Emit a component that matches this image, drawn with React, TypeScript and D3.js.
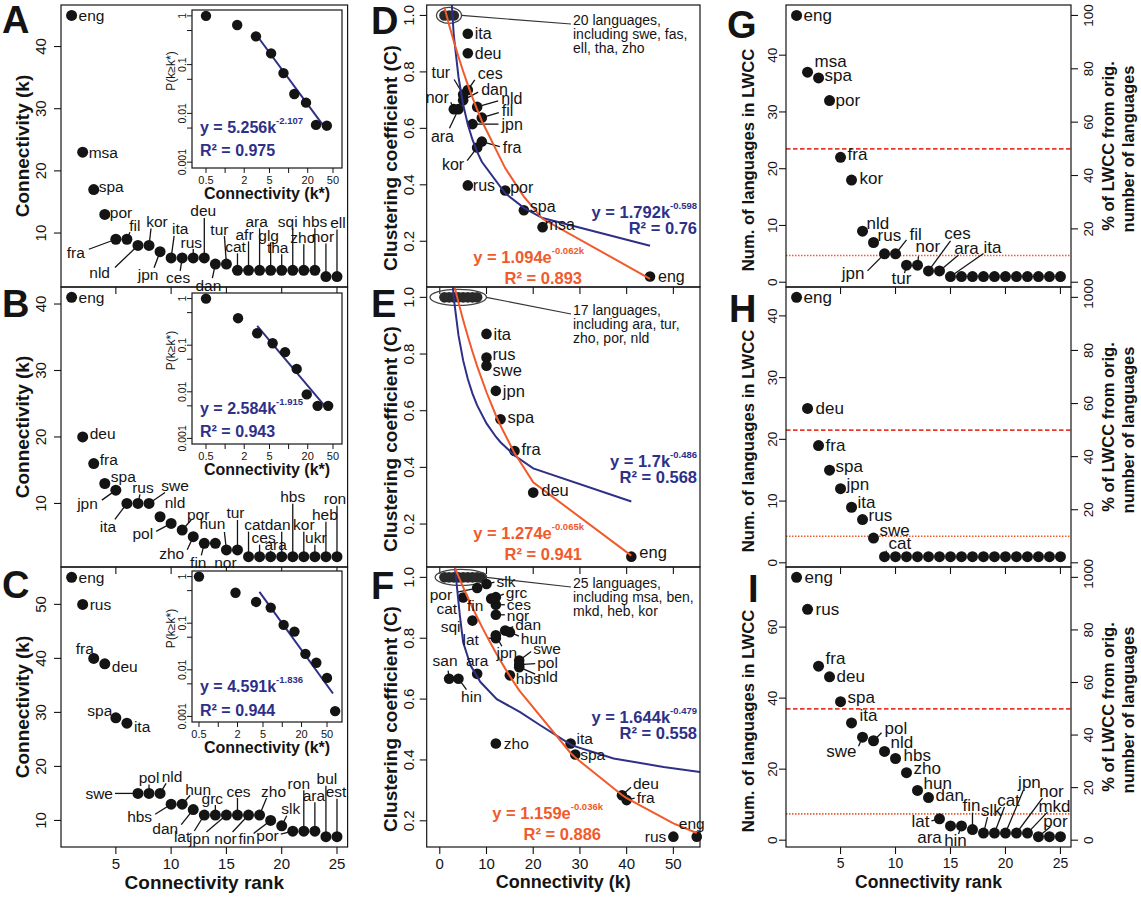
import React from "react";
import * as d3 from "d3";

type Lab = [number, number, string, number?, number?] | null;

const FONT = "'Liberation Sans', Arial, Helvetica, sans-serif";
const INK = "#141414";
const BLUE = "#2e3088";
const ORANGE = "#f15a2b";
const RED_DASH = "#e83a2c";
const RED_DOT = "#f25c2c";

// ---------------- Panels A-C : connectivity by rank ----------------
const langA = ["eng","msa","spa","por","fra","fil","nld","kor","jpn","ita","ces","rus","deu","dan","tur","cat","afr","ara","glg","tha","sqi","zho","hbs","nor","ell"];
const connA = [45,23,17,13,9,9,8,8,7,6,6,6,6,5,5,4,4,4,4,4,4,4,4,3,3];
const langB = ["eng","deu","fra","spa","jpn","ita","rus","swe","nld","pol","por","zho","fin","nor","hun","tur","cat","ces","ara","dan","hbs","kor","ukr","heb","ron"];
const connB = [41,20,16,13,12,10,10,10,8,7,6,5,4,4,3,3,2,2,2,2,2,2,2,2,2];
const langC = ["eng","rus","fra","deu","spa","ita","swe","pol","nld","hbs","hun","dan","lat","grc","jpn","ces","nor","zho","fin","slk","por","ron","ara","bul","est"];
const connC = [55,50,40,39,29,28,15,15,15,13,13,12,11,11,11,11,11,11,10,9,8,8,8,7,7];

// insets: cumulative degree distribution P(k>=k*)
const insetKA = [0.5, 1.55, 3.06, 5.3, 8.3, 12.3, 18.8, 27, 40];
const insetPA = [1, 0.65, 0.38, 0.17, 0.067, 0.025, 0.0166, 0.0058, 0.0056];
const fitKA = [3.1, 40];
const fitPA = [0.41, 0.0045];
const insetKB = [0.5, 1.6, 3.2, 5.6, 8.8, 13.4, 19.3, 28.6, 42];
const insetPB = [1, 0.38, 0.18, 0.11, 0.071, 0.031, 0.0088, 0.005, 0.005];
const fitKB = [3.2, 37];
const fitPB = [0.26, 0.005];
const insetKC = [0.5, 1.86, 3.9, 6.6, 10.5, 15.5, 23, 34, 50, 67];
const insetPC = [1, 0.45, 0.286, 0.216, 0.092, 0.066, 0.022, 0.0142, 0.0067, 0.0013];
const fitKC = [4.4, 62];
const fitPC = [0.47, 0.0031];

// ---------------- Panels D-F : clustering coefficient ----------------
const langD = ["ita","deu","ces","tur","dan","nor","ara","nld","fil","jpn","fra","kor","rus","por","spa","msa","eng"];
const kD = [6,6,6,5,5,3,4,8,9,7,9,8,6,14,18,22,45];
const ccD = [0.935,0.866,0.736,0.72,0.70,0.668,0.668,0.676,0.638,0.615,0.553,0.532,0.398,0.38,0.31,0.25,0.075];
const clusterKD = [1,2,3];
const ellipseKD = [-0.7, 4.65];

const langE = ["ita","rus","swe","jpn","spa","fra","deu","eng"];
const kE = [10,10,10,12,13,16,20,41];
const ccE = [0.871,0.788,0.759,0.67,0.57,0.458,0.311,0.085];
const clusterKE = [1,2,3,4,5,6,7,8];
const ellipseKE = [-2.1, 10.0];

const langF = ["por","slk","grc","ces","nor","fin","cat","sqi","lat","dan","hun","jpn","swe","pol","nld","hbs","ara","san","hin","zho","ita","spa","deu","fra","rus","eng"];
const kF = [8,10,12,12,12,11,5,7,12,14,15,12,17,17,17,15,8,2,4,12,28,29,39,40,50,55];
const ccF = [0.965,0.978,0.935,0.91,0.877,0.93,0.934,0.858,0.80,0.825,0.82,0.81,0.727,0.713,0.705,0.678,0.683,0.667,0.667,0.454,0.454,0.418,0.284,0.268,0.148,0.148];
const clusterKF = [1,2,3,4,5,6,7,8,9];
const ellipseKF = [-1.0, 10.0];
const blueKF = [3.2, 4.3, 5.0, 6.6, 8.7, 12.2, 17.2, 21.5, 28.3, 37.2, 47.9, 56];
const blueCF = [1.04, 0.874, 0.787, 0.71, 0.656, 0.60, 0.557, 0.514, 0.448, 0.405, 0.377, 0.36];

// ---------------- Panels G-I : size of LWCC ----------------
const langG = ["eng","msa","spa","por","fra","kor","nld","rus","jpn","fil","tur","nor","ces","ara","ita","","","","","","","","","",""];
const lwccG = [47,37,36,32,22,18,9,7,5,5,3,3,2,2,1,1,1,1,1,1,1,1,1,1,1];
const langH = ["eng","deu","fra","spa","jpn","ita","rus","swe","cat","","","","","","","","","","","","","","","",""];
const lwccH = [43,25,19,15,12,9,7,4,1,1,1,1,1,1,1,1,1,1,1,1,1,1,1,1,1];
const langI = ["eng","rus","fra","deu","spa","ita","swe","pol","nld","hbs","zho","hun","dan","lat","ara","hin","fin","slk","cat","jpn","nor","mkd","por","",""];
const lwccI = [74,65,49,46,39,33,29,28,25,23,19,14,12,6,4,4,3,2,2,2,2,2,1,1,1];

// ---------------- ticks ----------------
const ticksA = [10, 20, 30, 40];
const ticksB = [10, 20, 30, 40];
const ticksC = [10, 20, 30, 40, 50];
const ticksG = [0, 10, 20, 30, 40];
const ticksH = [0, 10, 20, 30, 40];
const ticksI = [0, 20, 40, 60];
const rankTicks = [5, 10, 15, 20, 25];
const pctTicks = [0, 20, 40, 60, 80, 100];
const ccTicks = [0.2, 0.4, 0.6, 0.8, 1.0];
const kTicks = [0, 10, 20, 30, 40, 50];
const kDomain = [-2.8, 55.7];
const insetXTicks = [0.5, 1, 2, 5, 10, 20, 50];
const insetXLabels = ["0.5", "", "2", "5", "", "20", "50"];
const insetYTicks = [1, 0.5, 0.1, 0.05, 0.01, 0.005, 0.001];
const insetYLabels = ["1", "", "0.1", "", "0.01", "", "0.001"];

// ---------------- label placement (layout) ----------------
const labA: Lab[] = [
  [7,0,"s"],[6,0,"s"],[5,-3,"s"],[5,-2,"s"],
  [-31,13,"e",-27,10],[8,-14,"m",3,-7],[-28,27,"e",-23,22],[8,-24,"m",2,-17],
  [-12,23,"m",-6,16],[9,-29,"m",3,-22],[-4,20,"m",-2,13],[-2,-15,"m",0,-9],
  [-1,-47,"m",0,-40],[-7,21,"m",-3,14],[-7,-35,"m",-2,-28],[-2,-24,"m",0,-17],
  [-4,-36,"m",0,-29],[-3,-49,"m",0,-42],[-2,-35,"m",0,-28],[-4,-23,"m",0,-16],
  [-5,-49,"m",0,-42],[-1,-33,"m",0,-26],[0,-49,"m",0,-42],[-3,-40,"m",0,-33],[1,-54,"m",0,-47],
];
const labB: Lab[] = [
  [7,0,"s"],[7,-3,"s"],[6,-4,"s"],[6,-7,"s"],
  [-18,13,"e",-14,10],[-19,23,"m",-12,16],[5,-16,"m",2,-9],[26,-18,"m",16,-11],
  [15,-14,"m"],[-18,10,"e",-15,8],[16,-16,"m",9,-10],[-9,17,"e",-6,13],
  [-6,19,"m",-3,12],[10,19,"m"],[-14,-26,"m",-2,-18],[-2,-37,"m",0,-30],
  [6,-32,"m",0,-25],[4,-19,"m",0,-12],[5,-12,"m",0,-6],[-4,-32,"m",0,-25],
  [0,-60,"m",0,-53],[0,-32,"m",0,-25],[1,-19,"m",0,-12],[-1,-42,"m",0,-35],[-2,-58,"m",0,-51],
];
const labC: Lab[] = [
  [7,0,"s"],[7,0,"s"],[-9,-10,"m"],[7,3,"s"],
  [-16,-7,"m"],[7,3,"s"],[-25,0,"e",-23,0],[0,-16,"m",0,-9],
  [12,-17,"m",6,-10],[-19,12,"e",-16,10],[16,-15,"m",8,-9],[-15,19,"e",-12,15],
  [-14,21,"e",-10,16],[-3,-17,"m",0,-10],[-27,23,"m",-20,17],[1,-24,"m",0,-17],
  [-23,23,"m",-16,17],[14,-24,"m",7,-17],[-24,18,"m",-17,13],[9,-17,"m",5,-10],
  [-14,4,"e",-12,3],[-5,-48,"m",0,-41],[-1,-36,"m",0,-29],[1,-58,"m",0,-51],[-1,-45,"m",0,-38],
];
const labG: Lab[] = [
  [7,0,"s"],[7,-11,"s"],[6,-2,"s"],[6,0,"s"],[7,-3,"s"],[8,-2,"s"],[4,-8,"s"],[4,-7,"s"],
  [-20,20,"e",-17,17],[14,-19,"s",11,-14],[-5,13,"m",-2,8],[-2,-19,"s",1,-9],
  [29,-37,"m",22,-30],[27,-22,"m",19,-16],[42,-29,"m",33,-23],
  null,null,null,null,null,null,null,null,null,null,
];
const labH: Lab[] = [
  [7,0,"s"],[8,0,"s"],[7,0,"s"],[6,-4,"s"],[6,-4,"s"],[6,-5,"s"],[6,-4,"s"],[6,-8,"s"],[4,-13,"s",2,-6],
  null,null,null,null,null,null,null,null,null,null,null,null,null,null,null,null,
];
const labI: Lab[] = [
  [8,0,"s"],[8,0,"s"],[7,-8,"s"],[7,0,"s"],[7,-4,"s"],[8,-7,"s"],
  [-6,14,"e",-4,9],[11,-12,"s",8,-8],[6,-9,"s"],[8,-3,"s"],[7,-4,"s"],[6,-7,"s"],[7,-2,"s"],
  [-10,3,"e",-8,2],[-21,12,"m"],[-6,15,"m",-3,8],[-1,-24,"m",0,-17],[8,-23,"m",4,-16],
  [14,-33,"m",10,-26],[24,-51,"m",18,-43],[35,-42,"m",26,-35],[27,-27,"m",20,-21],[17,-15,"m",12,-10],
  null,null,
];
const labD: Lab[] = [
  [7,0,"s"],[7,0,"s"],[10,-16,"s",7,-10],[-13,-22,"e",-9,-15],[18,-11,"s",15,-8],[-5,-12,"e",-3,-7],[-16,27,"m",-9,19],
  [24,-8,"s",21,-6],[20,-7,"s",17,-5],[29,0,"s",26,0],[21,6,"s",18,5],[-13,17,"e",-10,13],
  [5,0,"s"],[5,-3,"s"],[6,-4,"s"],[2,-3,"s"],[8,0,"s"],
];
const labE: Lab[] = [[7,0,"s"],[6,-3,"s"],[6,4,"s"],[7,0,"s"],[7,-2,"s"],[7,-2,"s"],[8,-3,"s"],[8,-5,"s"]];
const labF: Lab[] = [
  [-25,6,"e",-20,4],[10,-3,"s",8,-2],[10,-5,"s",8,-3],[11,0,"s",9,0],[11,1,"s",9,0],[-16,7,"m"],[-6,11,"e"],[-12,6,"e"],
  [-17,1,"e",-8,0],[10,-6,"s",8,-4],[11,6,"s",9,4],[11,17,"m",6,11],[14,-12,"s",12,-9],[18,-2,"s",16,-1],[18,9,"s",16,7],[6,3,"s"],
  [0,-13,"m"],[-4,-18,"m",-1,-8],[13,18,"m",8,11],[8,0,"s"],[6,-5,"s"],[5,0,"s"],[11,-12,"s",9,-8],[10,-3,"s",8,-2],[-7,0,"e"],[-5,-13,"m"],
];

const AN: Record<string, string> = { s: "start", m: "middle", e: "end" };

type Pt = { x: number; y: number; name: string; lab: Lab };

function Marks({ pts, r, fs, lines }: { pts: Pt[]; r: number; fs: number; lines?: React.ReactNode }) {
  return (
    <g>
      {pts.map((p, i) =>
        p.lab && p.lab[3] !== undefined ? (
          <line key={"l" + i} x1={p.x} y1={p.y} x2={p.x + (p.lab[3] as number)} y2={p.y + (p.lab[4] as number)} stroke={INK} strokeWidth={1.3} />
        ) : null
      )}
      {pts.map((p, i) => (
        <circle key={"c" + i} cx={p.x} cy={p.y} r={r} fill={INK} />
      ))}
      {lines}
      {pts.map((p, i) =>
        p.lab && p.name ? (
          <text key={"t" + i} x={p.x + p.lab[0]} y={p.y + p.lab[1]} textAnchor={AN[p.lab[2]]} dominantBaseline="central" fontSize={fs} fill={INK}>
            {p.name}
          </text>
        ) : null
      )}
    </g>
  );
}

function VAxis({ x, scale, ticks, fmt, fs, off, side }: any) {
  const dir = side === "right" ? 1 : -1;
  return (
    <g>
      {ticks.map((t: number, i: number) => {
        const y = scale(t);
        return (
          <g key={i}>
            <line x1={x} x2={x + dir * 7} y1={y} y2={y} stroke={INK} strokeWidth={1.1} />
            <text transform={`translate(${x + dir * off},${y}) rotate(-90)`} textAnchor="middle" dominantBaseline="central" fontSize={fs} fill={INK}>
              {fmt(t)}
            </text>
          </g>
        );
      })}
    </g>
  );
}

function HAxis({ y, scale, ticks, labels, fs }: any) {
  return (
    <g>
      {ticks.map((t: number, i: number) => (
        <g key={i}>
          <line x1={scale(t)} x2={scale(t)} y1={y} y2={y + 7} stroke={INK} strokeWidth={1.1} />
          {labels ? (
            <text x={scale(t)} y={y + 16} textAnchor="middle" dominantBaseline="central" fontSize={fs} fill={INK}>
              {String(t)}
            </text>
          ) : null}
        </g>
      ))}
    </g>
  );
}

function RankPanel(p: any) {
  const { x0, x1, y0, y1, langs, vals, labs, yTicks, xLabels, tickFs, labFs, titleFs, yTitle, tickOff, titleOff, titleDy, pct, xTitle, xTitleFs, xTickFs } = p;
  const n = vals.length;
  const xs = d3.scaleLinear().domain([1 - 0.04 * (n - 1), n + 0.04 * (n - 1)]).range([x0, x1]);
  const mn = d3.min(vals) as number;
  const mx = d3.max(vals) as number;
  const pad = 0.04 * (mx - mn);
  const ys = d3.scaleLinear().domain([mn - pad, mx + pad]).range([y1, y0]);
  const pts: Pt[] = vals.map((v: number, i: number) => ({ x: xs(i + 1), y: ys(v), name: langs[i], lab: labs[i] }));
  const cy = (y0 + y1) / 2;
  let right: React.ReactNode = null;
  if (pct) {
    const ps = d3.scaleLinear().domain([((mn - pad) / mx) * 100, ((mx + pad) / mx) * 100]).range([y1, y0]);
    right = (
      <g>
        <line x1={x0} x2={x1} y1={ys(mx * 0.5)} y2={ys(mx * 0.5)} stroke={RED_DASH} strokeWidth={1.7} strokeDasharray="4.5,2.5" />
        <line x1={x0} x2={x1} y1={ys(mx * 0.1)} y2={ys(mx * 0.1)} stroke={RED_DOT} strokeWidth={1.6} strokeDasharray="1.5,1.5" />
        <VAxis x={x1} scale={ps} ticks={pctTicks} fmt={(t: number) => String(t)} fs={tickFs} off={17} side="right" />
        <text transform={`translate(${x1 + 37},${cy}) rotate(-90)`} textAnchor="middle" dominantBaseline="central" fontSize={16.5} fontWeight="bold" fill={INK}>
          % of LWCC from orig.
        </text>
        <text transform={`translate(${x1 + 57},${cy + 3}) rotate(-90)`} textAnchor="middle" dominantBaseline="central" fontSize={16.5} fontWeight="bold" fill={INK}>
          number of languages
        </text>
      </g>
    );
  }
  return (
    <g>
      {right}
      <Marks pts={pts} r={5.5} fs={labFs} />
      <rect x={x0} y={y0} width={x1 - x0} height={y1 - y0} fill="none" stroke={INK} strokeWidth={1.2} />
      <HAxis y={y1} scale={xs} ticks={rankTicks} labels={xLabels} fs={xTickFs} />
      <VAxis x={x0} scale={ys} ticks={yTicks} fmt={(t: number) => String(t)} fs={tickFs} off={tickOff} side="left" />
      <text transform={`translate(${x0 - titleOff},${cy + titleDy}) rotate(-90)`} textAnchor="middle" dominantBaseline="central" fontSize={titleFs} fontWeight="bold" fill={INK}>
        {yTitle}
      </text>
      {xTitle ? (
        <text x={(x0 + x1) / 2} y={y1 + 35} textAnchor="middle" dominantBaseline="central" fontSize={xTitleFs} fontWeight="bold" fill={INK}>
          {xTitle}
        </text>
      ) : null}
    </g>
  );
}

function Inset(p: any) {
  const { x0, x1, y0, y1, xDom, ks, ps, fitK, fitP, coef, expo, r2, eqDy } = p;
  const xs = d3.scaleLog().domain(xDom).range([x0, x1]);
  const ys = d3.scaleLog().domain([Math.pow(10, -3.12), Math.pow(10, 0.12)]).range([y1, y0]);
  const line = d3.line<number[]>().x((d) => xs(d[0])).y((d) => ys(d[1]));
  const fit = fitK.map((k: number, i: number) => [k, fitP[i]]);
  return (
    <g>
      <rect x={x0} y={y0} width={x1 - x0} height={y1 - y0} fill="#fff" stroke={INK} strokeWidth={1.2} />
      {insetXTicks.map((t, i) => (
        <g key={"x" + i}>
          <line x1={xs(t)} x2={xs(t)} y1={y1} y2={y1 + 5} stroke={INK} strokeWidth={1} />
          {insetXLabels[i] ? (
            <text x={xs(t)} y={y1 + 12} textAnchor="middle" dominantBaseline="central" fontSize={11} fill={INK}>
              {insetXLabels[i]}
            </text>
          ) : null}
        </g>
      ))}
      {insetYTicks.map((t, i) => (
        <g key={"y" + i}>
          <line x1={x0} x2={x0 - 5} y1={ys(t)} y2={ys(t)} stroke={INK} strokeWidth={1} />
          {insetYLabels[i] ? (
            <text transform={`translate(${x0 - 10},${ys(t)}) rotate(-90)`} textAnchor="middle" dominantBaseline="central" fontSize={10.5} fill={INK}>
              {insetYLabels[i]}
            </text>
          ) : null}
        </g>
      ))}
      <path d={line(fit) as string} fill="none" stroke={BLUE} strokeWidth={2} />
      {ks.map((k: number, i: number) => (
        <circle key={i} cx={xs(k)} cy={ys(ps[i])} r={5.2} fill={INK} />
      ))}
      <text x={x0 + 8} y={y1 + eqDy[0]} dominantBaseline="central" fontSize={16} fontWeight="bold" fill={BLUE}>
        y = {coef}k<tspan dy={-7} fontSize={9.5}>{expo}</tspan>
      </text>
      <text x={x0 + 8} y={y1 + eqDy[1]} dominantBaseline="central" fontSize={16} fontWeight="bold" fill={BLUE}>
        R² = {r2}
      </text>
      <text x={(x0 + x1) / 2} y={y1 + 25} textAnchor="middle" dominantBaseline="central" fontSize={16} fontWeight="bold" fill={INK}>
        Connectivity (k*)
      </text>
      <text transform={`translate(${x0 - 21},${(y0 + y1) / 2 - 18}) rotate(-90)`} textAnchor="middle" dominantBaseline="central" fontSize={12} fill={INK}>
        P(k≥k*)
      </text>
    </g>
  );
}

function ClusterPanel(p: any) {
  const { id, x0, x1, y0, y1, langs, ks, cs, labs, clusterKs, ellK, pow, expo, blueK, blueC, showX, callout, calloutY, blueEq, orangeEq, labFs } = p;
  const xs = d3.scaleLinear().domain(kDomain).range([x0, x1]);
  const mn = Math.min(...cs, 1);
  const mx = 1;
  const pad = 0.04 * (mx - mn);
  const ys = d3.scaleLinear().domain([mn - pad, mx + pad]).range([y1, y0]);
  const allK = Array.from(new Set([...clusterKs, ...ks])).sort((a: any, b: any) => a - b) as number[];
  const line = d3.line<number[]>().x((d) => xs(d[0])).y((d) => ys(d[1]));
  const blue = blueK ? blueK.map((k: number, i: number) => [k, blueC[i]]) : allK.map((k) => [k, pow[0] * Math.pow(k, pow[1])]);
  const orange = allK.map((k) => [k, expo[0] * Math.exp(expo[1] * k)]);
  const pts: Pt[] = ks.map((k: number, i: number) => ({ x: xs(k), y: ys(cs[i]), name: langs[i], lab: labs[i] }));
  const ex0 = xs(ellK[0]);
  const ex1 = xs(ellK[1]);
  const ecy = ys(1);
  const cy = (y0 + y1) / 2;
  const textX = 573;
  const curves = (
    <g clipPath={`url(#clip${id})`}>
      <path d={line(blue) as string} fill="none" stroke={BLUE} strokeWidth={2} />
      <path d={line(orange) as string} fill="none" stroke={ORANGE} strokeWidth={2} />
    </g>
  );
  return (
    <g>
      <defs>
        <clipPath id={`clip${id}`}>
          <rect x={x0} y={y0} width={x1 - x0} height={y1 - y0} />
        </clipPath>
      </defs>
      {clusterKs.map((k: number, i: number) => (
        <circle key={"k" + i} cx={xs(k)} cy={ys(1)} r={5.3} fill="#2a2a2a" />
      ))}
      <line x1={ex1} y1={ecy} x2={textX - 2} y2={calloutY + 4} stroke="#333" strokeWidth={1.2} />
      <ellipse cx={(ex0 + ex1) / 2} cy={ecy} rx={(ex1 - ex0) / 2} ry={8} fill="none" stroke="#444" strokeWidth={1.3} />
      <Marks pts={pts} r={5.3} fs={labFs} lines={curves} />
      {callout.map((s: string, i: number) => (
        <text key={"co" + i} x={textX} y={calloutY + i * 14} dominantBaseline="central" fontSize={14} fill={INK}>
          {s}
        </text>
      ))}
      <text x={697} y={blueEq.y} textAnchor="end" dominantBaseline="central" fontSize={16.5} fontWeight="bold" fill={BLUE}>
        y = {blueEq.c}k<tspan dy={-7} fontSize={9.5}>{blueEq.e}</tspan>
      </text>
      <text x={697} y={blueEq.y + 16} textAnchor="end" dominantBaseline="central" fontSize={16.5} fontWeight="bold" fill={BLUE}>
        R² = {blueEq.r}
      </text>
      <text x={orangeEq.x} y={orangeEq.y} textAnchor="end" dominantBaseline="central" fontSize={16.5} fontWeight="bold" fill={ORANGE}>
        y = {orangeEq.c}e<tspan dy={-7} fontSize={9.5}>{orangeEq.e}</tspan>
      </text>
      <text x={orangeEq.x - 2} y={orangeEq.y + 21} textAnchor="end" dominantBaseline="central" fontSize={16.5} fontWeight="bold" fill={ORANGE}>
        R² = {orangeEq.r}
      </text>
      <rect x={x0} y={y0} width={x1 - x0} height={y1 - y0} fill="none" stroke={INK} strokeWidth={1.2} />
      <HAxis y={y1} scale={xs} ticks={kTicks} labels={showX} fs={15} />
      <VAxis x={x0} scale={ys} ticks={ccTicks} fmt={(t: number) => t.toFixed(1)} fs={15} off={18} side="left" />
      <text transform={`translate(${x0 - 36},${cy + 12}) rotate(-90)`} textAnchor="middle" dominantBaseline="central" fontSize={19} fontWeight="bold" fill={INK}>
        Clustering coefficient (C)
      </text>
      {showX ? (
        <text x={(x0 + x1) / 2} y={y1 + 35} textAnchor="middle" dominantBaseline="central" fontSize={18} fontWeight="bold" fill={INK}>
          Connectivity (k)
        </text>
      ) : null}
    </g>
  );
}

function Letter({ x, y, t }: { x: number; y: number; t: string }) {
  return (
    <text x={x} y={y} fontSize={38} fontWeight="bold" fill={INK}>
      {t}
    </text>
  );
}

export default function App() {
  const rows = [[5, 287], [287, 567], [567, 847]];
  const c1 = [61, 347.6];
  const c2 = [426.7, 700];
  const c3 = [786, 1071];
  const rankCommon = { tickFs: 15, labFs: 15.5, titleFs: 19, yTitle: "Connectivity (k)", tickOff: 21, titleOff: 39, titleDy: 0, xTickFs: 15, xTitleFs: 19 };
  const lwccCommon = { tickFs: 13.5, labFs: 17, titleFs: 16.7, yTitle: "Num. of languages in LWCC", tickOff: 14, titleOff: 38, titleDy: 14, xTickFs: 14, xTitleFs: 17.5, pct: true };
  return (
    <svg width={1141} height={898} viewBox="0 0 1141 898" style={{ position: "absolute", left: 0, top: 0 }} fontFamily={FONT}>
      <rect x={0} y={0} width={1141} height={898} fill="#fff" />
      {/* A-C */}
      <RankPanel {...rankCommon} x0={c1[0]} x1={c1[1]} y0={rows[0][0]} y1={rows[0][1]} langs={langA} vals={connA} labs={labA} yTicks={ticksA} xLabels={false} />
      <Inset x0={192} x1={342} y0={10} y1={168} xDom={[0.301, 69.3]} ks={insetKA} ps={insetPA} fitK={fitKA} fitP={fitPA} coef="5.256" expo="-2.107" r2="0.975" eqDy={[-41, -18]} />
      <RankPanel {...rankCommon} x0={c1[0]} x1={c1[1]} y0={rows[1][0]} y1={rows[1][1]} langs={langB} vals={connB} labs={labB} yTicks={ticksB} xLabels={false} />
      <Inset x0={192} x1={342} y0={293} y1={444} xDom={[0.301, 69.3]} ks={insetKB} ps={insetPB} fitK={fitKB} fitP={fitPB} coef="2.584" expo="-1.915" r2="0.943" eqDy={[-36, -13]} />
      <RankPanel {...rankCommon} x0={c1[0]} x1={c1[1]} y0={rows[2][0]} y1={rows[2][1]} langs={langC} vals={connC} labs={labC} yTicks={ticksC} xLabels={true} xTitle="Connectivity rank" />
      <Inset x0={192} x1={342} y0={571} y1={722} xDom={[0.389, 85.7]} ks={insetKC} ps={insetPC} fitK={fitKC} fitP={fitPC} coef="4.591" expo="-1.836" r2="0.944" eqDy={[-36, -12]} />
      {/* D-F */}
      <ClusterPanel id="D" x0={c2[0]} x1={c2[1]} y0={rows[0][0]} y1={rows[0][1]} langs={langD} ks={kD} cs={ccD} labs={labD} clusterKs={clusterKD} ellK={ellipseKD} labFs={16}
        pow={[1.792, -0.598]} expo={[1.094, -0.062]} showX={false} callout={["20 languages,", "including swe, fas,", "ell, tha, zho"]} calloutY={20}
        blueEq={{ y: 212, c: "1.792", e: "-0.598", r: "0.76" }} orangeEq={{ x: 584, y: 257, c: "1.094", e: "-0.062k", r: "0.893" }} />
      <ClusterPanel id="E" x0={c2[0]} x1={c2[1]} y0={rows[1][0]} y1={rows[1][1]} langs={langE} ks={kE} cs={ccE} labs={labE} clusterKs={clusterKE} ellK={ellipseKE} labFs={16.5}
        pow={[1.7, -0.486]} expo={[1.274, -0.065]} showX={false} callout={["17 languages,", "including ara, tur,", "zho, por, nld"]} calloutY={310}
        blueEq={{ y: 461, c: "1.7", e: "-0.486", r: "0.568" }} orangeEq={{ x: 584, y: 533, c: "1.274", e: "-0.065k", r: "0.941" }} />
      <ClusterPanel id="F" x0={c2[0]} x1={c2[1]} y0={rows[2][0]} y1={rows[2][1]} langs={langF} ks={kF} cs={ccF} labs={labF} clusterKs={clusterKF} ellK={ellipseKF} labFs={15.5}
        pow={[1.644, -0.479]} expo={[1.159, -0.036]} blueK={blueKF} blueC={blueCF} showX={true} callout={["25 languages,", "including msa, ben,", "mkd, heb, kor"]} calloutY={583}
        blueEq={{ y: 717, c: "1.644", e: "-0.479", r: "0.558" }} orangeEq={{ x: 603, y: 813, c: "1.159", e: "-0.036k", r: "0.886" }} />
      {/* G-I */}
      <RankPanel {...lwccCommon} x0={c3[0]} x1={c3[1]} y0={rows[0][0]} y1={rows[0][1]} langs={langG} vals={lwccG} labs={labG} yTicks={ticksG} xLabels={false} />
      <RankPanel {...lwccCommon} x0={c3[0]} x1={c3[1]} y0={rows[1][0]} y1={rows[1][1]} langs={langH} vals={lwccH} labs={labH} yTicks={ticksH} xLabels={false} />
      <RankPanel {...lwccCommon} x0={c3[0]} x1={c3[1]} y0={rows[2][0]} y1={rows[2][1]} langs={langI} vals={lwccI} labs={labI} yTicks={ticksI} xLabels={true} xTitle="Connectivity rank" />
      {/* panel letters */}
      <Letter x={2} y={33} t="A" />
      <Letter x={2} y={317} t="B" />
      <Letter x={2} y={598} t="C" />
      <Letter x={371} y={34} t="D" />
      <Letter x={371} y={317} t="E" />
      <Letter x={371} y={599} t="F" />
      <Letter x={727} y={38} t="G" />
      <Letter x={729} y={322} t="H" />
      <Letter x={748} y={602} t="I" />
    </svg>
  );
}
